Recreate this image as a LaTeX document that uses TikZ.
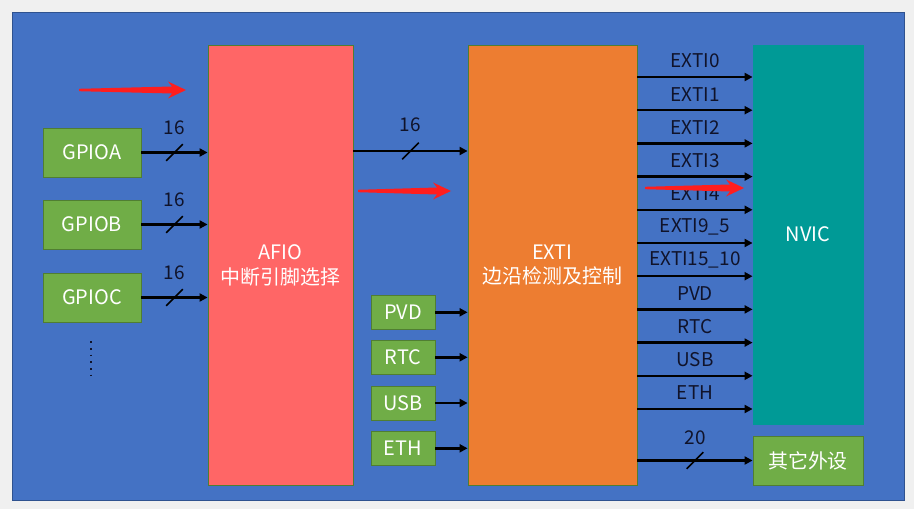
\documentclass[tikz,border=0pt]{standalone}
\usepackage{fontspec}
\setmainfont{Noto Sans CJK SC}
\usetikzlibrary{arrows.meta}
\definecolor{pagegray}{HTML}{F0F0F0}
\definecolor{bgblue}{HTML}{4472C4}
\definecolor{bgborder}{HTML}{2F528F}
\definecolor{afiored}{HTML}{FF6666}
\definecolor{extiorange}{HTML}{ED7D31}
\definecolor{nvicteal}{HTML}{009A96}
\definecolor{boxgreen}{HTML}{70AD47}
\definecolor{greenborder}{HTML}{507E32}
\definecolor{hlred}{HTML}{FF1E1E}
\definecolor{labeldark}{HTML}{10132A}
\tikzset{
  blockbox/.style={draw=greenborder, line width=0.8bp, text=white, align=center,
    inner sep=0pt, font=\fontsize{20}{25}\selectfont},
  sigline/.style={draw=black, line width=2.5bp, -{Triangle[length=8bp,width=8bp]}},
  siglabel/.style={text=labeldark, inner sep=0pt, font=\fontsize{19}{22}\selectfont},
  slashline/.style={draw=black, line width=1.6bp},
  pics/redarrow/.style={code={
    \fill[hlred] (-#1,-1.2) -- (-14,-3.5) -- (-18,-8.5) -- (0,0) -- (-18,8.5) -- (-14,3.5) -- (-#1,1.2) -- cycle;
  }}
}
\begin{document}
\begin{tikzpicture}[x=1bp,y=-1bp]
\useasboundingbox (0,0) rectangle (914,509);
\fill[pagegray] (0,0) rectangle (914,509);
\draw[fill=bgblue, draw=bgborder, line width=1bp] (12,13) rectangle (904,500);

% main blocks
\node[blockbox, fill=afiored, minimum width=145bp, minimum height=440bp] (afio) at (280.5,265) {AFIO\\中断引脚选择};
\node[blockbox, fill=extiorange, minimum width=169bp, minimum height=440bp] (exti) at (552.5,265) {EXTI\\边沿检测及控制};
\node[blockbox, fill=nvicteal, draw=nvicteal, minimum width=110bp, minimum height=379bp] (nvic) at (808,234.5) {NVIC};
\node[blockbox, fill=boxgreen, minimum width=110bp, minimum height=49bp] (other) at (808,460.5) {其它外设};

% GPIO blocks
\node[blockbox, fill=boxgreen, minimum width=98bp, minimum height=49bp] (gpioa) at (92,152.5) {GPIOA};
\node[blockbox, fill=boxgreen, minimum width=98bp, minimum height=49bp] (gpiob) at (92,224.5) {GPIOB};
\node[blockbox, fill=boxgreen, minimum width=98bp, minimum height=49bp] (gpioc) at (92,297.5) {GPIOC};
\draw[labeldark, line width=1.6bp, dash pattern=on 1.6bp off 5.1bp] (91,341.2) -- (91,378);

% peripheral blocks
\node[blockbox, fill=boxgreen, minimum width=64bp, minimum height=34bp] (pvd) at (403,312.3) {PVD};
\node[blockbox, fill=boxgreen, minimum width=64bp, minimum height=34bp] (rtc) at (403,357.3) {RTC};
\node[blockbox, fill=boxgreen, minimum width=64bp, minimum height=34bp] (usb) at (403,403) {USB};
\node[blockbox, fill=boxgreen, minimum width=64bp, minimum height=34bp] (eth) at (403,448.3) {ETH};

% GPIO -> AFIO buses
\foreach \g in {gpioa,gpiob,gpioc}{
  \draw[sigline] (\g.east) -- (afio.west |- \g.east) coordinate[midway] (m\g);
  \draw[slashline] (m\g) ++(-8.3,8.3) -- ++(16.6,-16.6);
  \node[siglabel, yshift=24.5bp] (l\g) at (m\g) {16};
}

% AFIO -> EXTI bus
\coordinate (afioout) at (afio.east |- 0,151);
\draw[sigline] (afioout) -- (exti.west |- afioout) coordinate[midway] (mae);
\draw[slashline] (mae) ++(-8.3,8.3) -- ++(16.6,-16.6);
\node[siglabel, yshift=26bp] (lae) at (mae) {16};

% peripherals -> EXTI
\foreach \p in {pvd,rtc,usb,eth}{
  \draw[sigline] (\p.east) -- (exti.west |- \p.east);
}

% EXTI -> NVIC lines
\foreach \lab [count=\i from 0] in {EXTI0,EXTI1,EXTI2,EXTI3,EXTI4,EXTI9\_5,EXTI15\_10,PVD,RTC,USB,ETH}{
  \pgfmathsetmacro{\yy}{77+33.2*\i}
  \coordinate (eo\i) at (exti.east |- 0,\yy);
  \draw[sigline] (eo\i) -- (nvic.west |- eo\i) coordinate[midway] (me\i);
  \node[siglabel, yshift=16bp] (le\i) at (me\i) {\lab};
}

% EXTI -> other peripherals bus
\draw[sigline] (exti.east |- other.west) -- (other.west) coordinate[midway] (mot);
\draw[slashline] (mot) ++(-8.3,8.3) -- ++(16.6,-16.6);
\node[siglabel, yshift=23bp] (lot) at (mot) {20};

% red highlight arrows
\pic at (186,90) {redarrow=107};
\pic at (451,191) {redarrow=93};
\pic at (744,188) {redarrow=99};
\end{tikzpicture}
\end{document}
